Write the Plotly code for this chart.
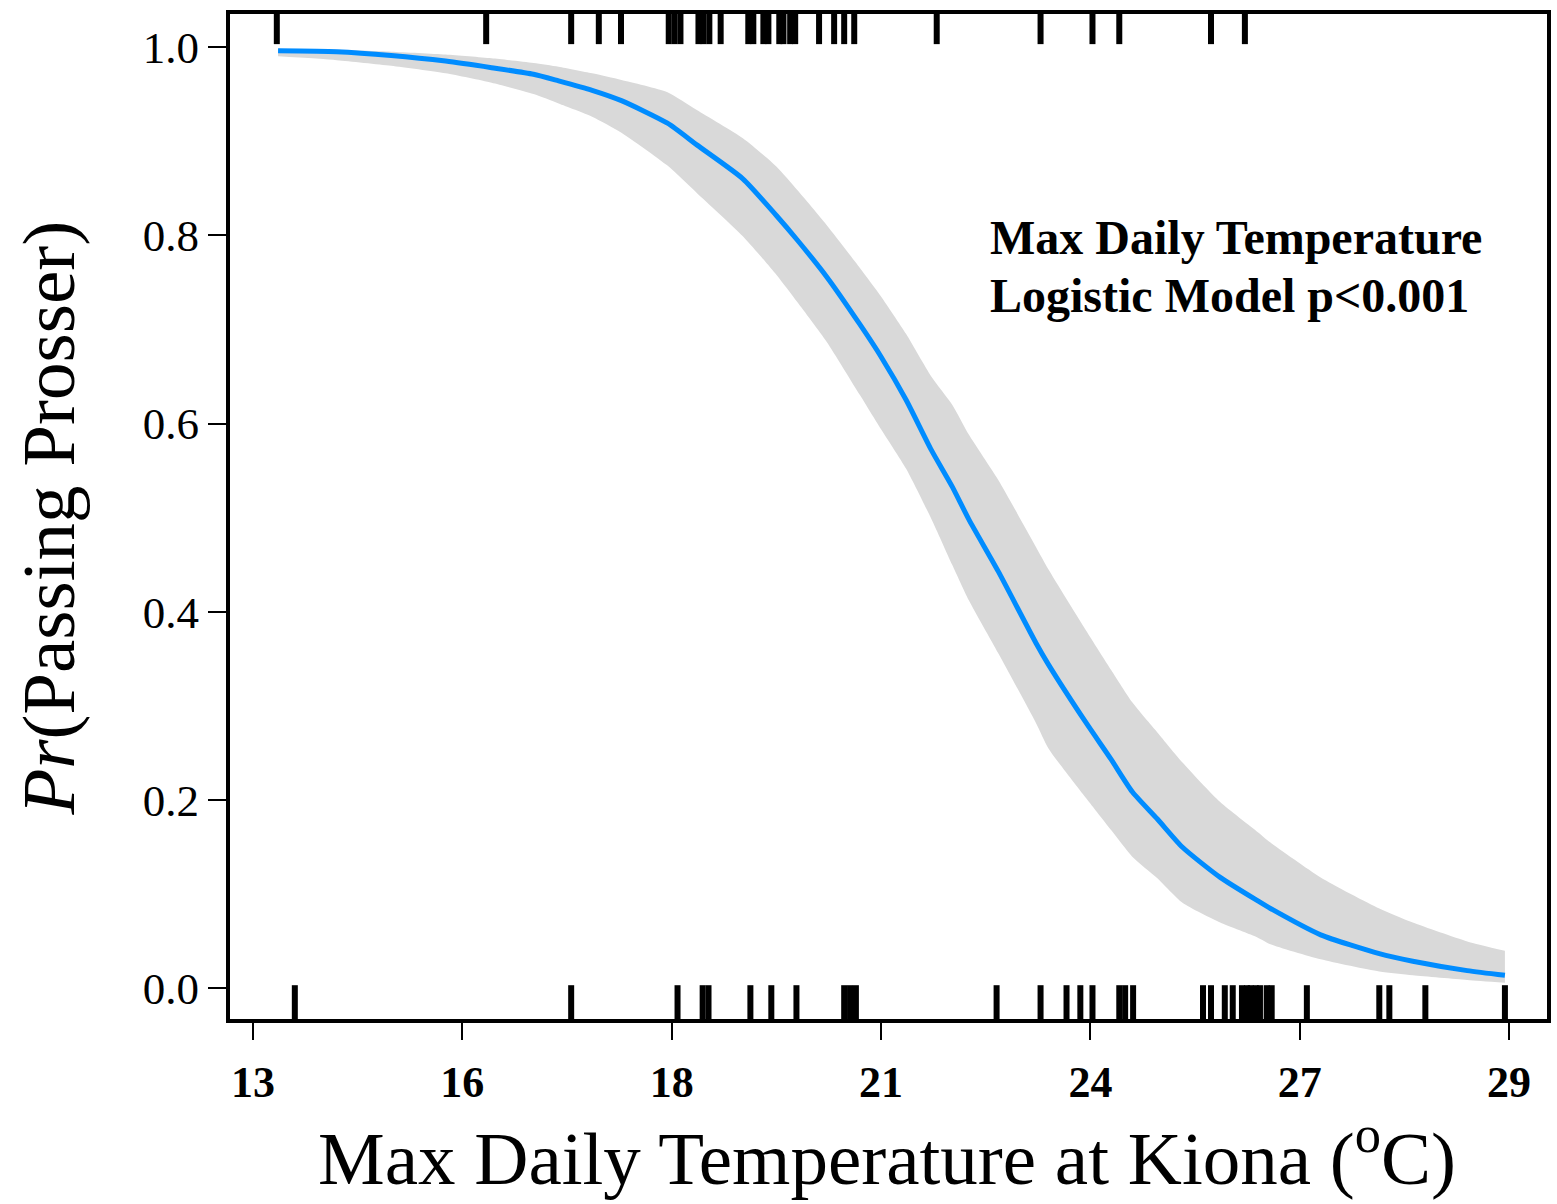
import plotly.graph_objects as go

# Fitted logistic model: probability of passing Prosser vs max daily temperature.
# Temperatures are stored in degrees Fahrenheit; tick labels show the Celsius equivalents.
temp_f = [55.6, 57.0, 58.3, 59.6, 60.7, 61.7, 62.3, 63.1, 63.8, 64.9, 65.6, 66.7,
          67.5, 68.0, 68.7, 69.5, 70.0, 70.6, 71.2, 71.7, 72.1, 72.8, 73.7, 74.0,
          74.9, 75.5, 76.0, 76.6, 77.2, 78.1, 79.0, 79.3, 80.5, 81.9, 82.7, 84.0, 84.9]
fit = [0.996, 0.995, 0.991, 0.985, 0.978, 0.971, 0.964, 0.954, 0.943, 0.919, 0.896, 0.860,
       0.821, 0.795, 0.756, 0.705, 0.671, 0.625, 0.572, 0.533, 0.498, 0.443, 0.367, 0.344,
       0.282, 0.243, 0.209, 0.180, 0.150, 0.118, 0.093, 0.085, 0.057, 0.037, 0.029, 0.019, 0.014]
upper = [0.998, 0.997, 0.995, 0.992, 0.988, 0.983, 0.979, 0.972, 0.965, 0.952, 0.933, 0.903,
         0.873, 0.848, 0.811, 0.765, 0.735, 0.695, 0.650, 0.620, 0.588, 0.540, 0.469, 0.445,
         0.380, 0.338, 0.304, 0.272, 0.240, 0.198, 0.166, 0.155, 0.118, 0.085, 0.070, 0.050, 0.040]
lower = [0.990, 0.986, 0.980, 0.972, 0.962, 0.950, 0.940, 0.926, 0.909, 0.874, 0.845, 0.799,
         0.758, 0.729, 0.687, 0.630, 0.594, 0.552, 0.499, 0.450, 0.412, 0.356, 0.282, 0.255,
         0.202, 0.168, 0.140, 0.117, 0.091, 0.070, 0.054, 0.047, 0.031, 0.018, 0.014, 0.009, 0.006]

# Observed days: passed (top rug) and did not pass (bottom rug)
passed_f = [55.57, 60.57, 62.60, 63.26, 63.79, 64.93, 65.07, 65.21, 65.64, 65.76, 65.90,
            66.17, 66.83, 66.95, 67.19, 67.31, 67.57, 67.67, 67.83, 67.95, 68.52, 68.88,
            69.12, 69.36, 71.33, 73.81, 75.05, 75.69, 77.88, 78.69]
failed_f = [56.00, 62.60, 65.14, 65.74, 65.88, 66.88, 67.38, 67.98, 69.12, 69.26, 69.40,
            72.76, 73.81, 74.43, 74.76, 75.05, 75.69, 75.83, 76.02, 77.69, 77.88, 78.21,
            78.40, 78.62, 78.74, 78.83, 78.95, 79.05, 79.21, 79.33, 80.17, 81.90, 82.14,
            83.00, 84.90]

# Axis ticks: Fahrenheit positions labelled in Celsius
tick_f = [55, 60, 65, 70, 75, 80, 85]
tick_c = ["13", "16", "18", "21", "24", "27", "29"]
y_ticks = [0.0, 0.2, 0.4, 0.6, 0.8, 1.0]

X_RANGE = [54.452, 85.905]
Y_RANGE = [-0.0324, 1.0350]
SERIF = "Liberation Serif, Times New Roman, serif"
BAND = "#D9D9D9"


def rug(xs, y0, y1):
    rx, ry = [], []
    for v in xs:
        rx += [v, v, None]
        ry += [y0, y1, None]
    return rx, ry


fig = go.Figure()

# confidence band: lower edge, then upper edge filled down to it
fig.add_trace(go.Scatter(
    x=temp_f, y=lower, mode="lines",
    line=dict(width=0, color=BAND, shape="spline", smoothing=0.6),
    hoverinfo="skip", showlegend=False))
fig.add_trace(go.Scatter(
    x=temp_f, y=upper, mode="lines", fill="tonexty", fillcolor=BAND,
    line=dict(width=0, color=BAND, shape="spline", smoothing=0.6),
    hoverinfo="skip", showlegend=False))

# fitted probability
fig.add_trace(go.Scatter(
    x=temp_f, y=fit, mode="lines",
    line=dict(color="#008CFF", width=5, shape="spline", smoothing=0.6),
    showlegend=False))

# rugs
tx, ty = rug(passed_f, 1.06, 1.003)
fig.add_trace(go.Scatter(x=tx, y=ty, mode="lines",
                         line=dict(color="black", width=6), showlegend=False))
bx, by = rug(failed_f, 0.0035, -0.06)
fig.add_trace(go.Scatter(x=bx, y=by, mode="lines",
                         line=dict(color="black", width=6), showlegend=False))

fig.update_layout(
    width=1557, height=1204,
    margin=dict(l=230, r=6, t=14, b=185),
    paper_bgcolor="white", plot_bgcolor="white",
    font=dict(family=SERIF, color="black"),
    showlegend=False,
    xaxis=dict(
        range=X_RANGE, tickmode="array", tickvals=tick_f, ticktext=tick_c,
        showgrid=False, zeroline=False,
        showline=True, mirror=True, linecolor="black", linewidth=4,
        ticks="outside", ticklen=17, tickwidth=2, tickcolor="black",
        tickfont=dict(family=SERIF, size=44, color="black", weight="bold"),
        ticklabelstandoff=4,
    ),
    yaxis=dict(
        range=Y_RANGE, tickmode="array", tickvals=y_ticks, tickformat=".1f",
        showgrid=False, zeroline=False,
        showline=True, mirror=True, linecolor="black", linewidth=4,
        ticks="outside", ticklen=18, tickwidth=2, tickcolor="black",
        tickfont=dict(family=SERIF, size=45, color="black"),
        ticklabelstandoff=0,
    ),
)

# axis titles
fig.add_annotation(
    text="Max Daily Temperature at Kiona (<sup>o</sup>C)",
    xref="paper", yref="paper", x=0.4985, y=-0.133,
    xanchor="center", yanchor="middle", showarrow=False,
    font=dict(family=SERIF, size=75, color="black"))
fig.add_annotation(
    text="<i>Pr</i>(Passing Prosser)",
    xref="paper", yref="paper", x=-0.1385, y=0.4985,
    xanchor="center", yanchor="middle", textangle=-90, showarrow=False,
    font=dict(family=SERIF, size=75, color="black"))

# model note, one annotation per line
note_lines = ["Max Daily Temperature", "Logistic Model p&lt;0.001"]
note_y = [0.798, 0.7365]
for line, yv in zip(note_lines, note_y):
    fig.add_annotation(
        text="<b>" + line + "</b>",
        x=72.55, y=yv, xanchor="left", yanchor="middle", align="left",
        showarrow=False, font=dict(family=SERIF, size=48, color="black"))

fig.write_html("out.html")
